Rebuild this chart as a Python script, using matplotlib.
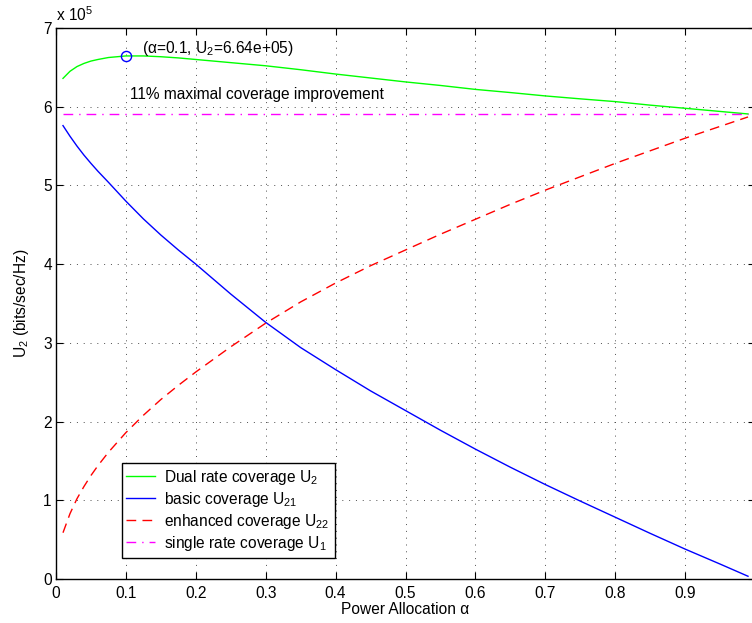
import matplotlib
matplotlib.use("Agg")
import matplotlib.pyplot as plt

plt.rcParams['font.family'] = ['Liberation Sans', 'DejaVu Sans']
plt.rcParams['mathtext.fontset'] = 'custom'
plt.rcParams['mathtext.rm'] = 'Liberation Sans'
plt.rcParams['mathtext.it'] = 'Liberation Sans:italic'

FS = 11.2

# ---- data (units of 1e5 bits/sec/Hz) ----
alpha = [0.01, 0.02, 0.03, 0.04, 0.05, 0.06, 0.075, 0.1, 0.125, 0.15, 0.175, 0.2,
         0.25, 0.3, 0.35, 0.4, 0.45, 0.5, 0.55, 0.6, 0.65, 0.7, 0.75, 0.8,
         0.85, 0.9, 0.95, 0.99]
dual_U2 = [6.36, 6.45, 6.51, 6.55, 6.58, 6.60, 6.625, 6.645, 6.645, 6.635, 6.62, 6.60,
           6.56, 6.52, 6.47, 6.415, 6.365, 6.315, 6.27, 6.22, 6.18, 6.137,
           6.10, 6.065, 6.02, 5.98, 5.94, 5.908]
basic_U21 = [5.76, 5.625, 5.50, 5.385, 5.28, 5.18, 5.04, 4.80, 4.575, 4.37, 4.18, 4.00,
             3.62, 3.26, 2.94, 2.66, 2.39, 2.14, 1.89, 1.65, 1.42, 1.20,
             0.99, 0.785, 0.58, 0.38, 0.19, 0.035]
enh_U22 = [0.588, 0.83, 1.02, 1.175, 1.315, 1.44, 1.61, 1.86, 2.08, 2.28, 2.46, 2.63,
           2.95, 3.25, 3.52, 3.76, 3.98, 4.18, 4.38, 4.57, 4.76, 4.94,
           5.11, 5.28, 5.44, 5.60, 5.75, 5.87]
single_U1 = [5.91] * len(alpha)
peak_alpha, peak_U2 = 0.1, 6.64

xticks = [0, 0.1, 0.2, 0.3, 0.4, 0.5, 0.6, 0.7, 0.8, 0.9]
xticklabels = ['0', '0.1', '0.2', '0.3', '0.4', '0.5', '0.6', '0.7', '0.8', '0.9']
yticks = [0, 1, 2, 3, 4, 5, 6, 7]

W, H = 752, 623
fig = plt.figure(figsize=(W / 100, H / 100), dpi=100)
ax = fig.add_axes([56 / W, 1 - 579 / H, 699 / W, 551 / H])

ax.plot(alpha, dual_U2, color=(0, 1, 0), lw=1.0, label='Dual rate coverage U$_2$')
ax.plot(alpha, basic_U21, color=(0, 0, 1), lw=1.0, label='basic coverage U$_{21}$')
ax.plot(alpha, enh_U22, color=(1, 0, 0), lw=1.0, dashes=(7, 4.5),
        label='enhanced coverage U$_{22}$')
ax.plot(alpha, single_U1, color=(1, 0, 1), lw=1.0, dashes=(7, 4.3, 1, 4.3),
        label='single rate coverage U$_1$')
ax.plot([peak_alpha], [peak_U2], 'o', mfc='none', mec=(0, 0, 1), ms=7.3, mew=1.0)

ax.text(0.1227, 6.745, '(α=0.1, U$_2$=6.64e+05)', fontsize=FS, ha='left', va='center')
ax.text(0.106, 6.15, '11% maximal coverage improvement', fontsize=FS,
        ha='left', va='center')

ax.set_xlim(0, 1)
ax.set_ylim(0, 7)
ax.set_xticks(xticks)
ax.set_xticklabels(xticklabels)
ax.set_yticks(yticks)
ax.tick_params(direction='in', top=True, right=True, length=5, width=0.8,
               labelsize=FS)
ax.tick_params(axis='x', pad=5)
ax.tick_params(axis='y', pad=3)
for s in ax.spines.values():
    s.set_linewidth(1.0)
ax.grid(True, color='0.3', lw=0.7, ls=(0, (1, 6)))

ax.set_xlabel('Power Allocation α', fontsize=FS, labelpad=1)
ax.set_ylabel('U$_2$ (bits/sec/Hz)', fontsize=FS, labelpad=9)
ax.text(0.0, 1.008, r'x 10$^5$', transform=ax.transAxes, fontsize=FS,
        ha='left', va='bottom')

leg = ax.legend(loc='lower left', bbox_to_anchor=(0.094, 0.039), fontsize=FS,
                handlelength=1.85, handletextpad=0.6, labelspacing=0.2,
                borderpad=0.3, borderaxespad=0, fancybox=False, framealpha=1,
                edgecolor='k')
leg.get_frame().set_linewidth(1.0)

fig.savefig('out.png', dpi=100)
